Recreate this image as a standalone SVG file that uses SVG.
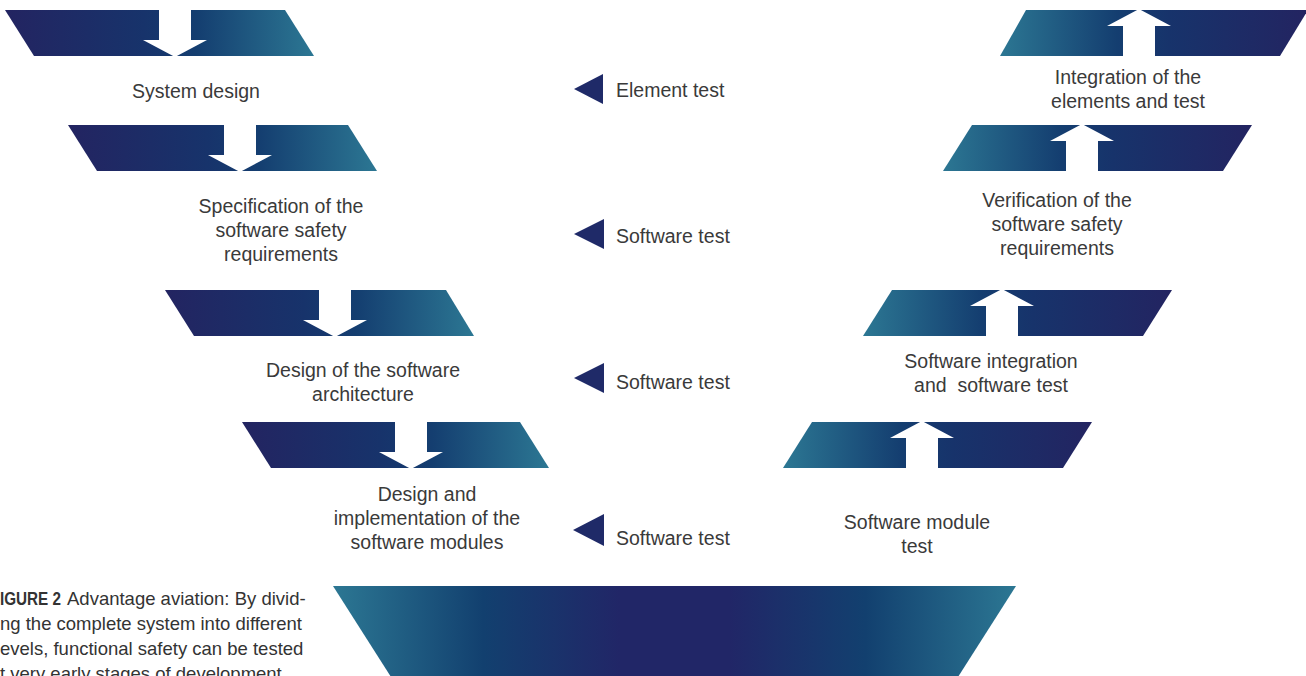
<svg xmlns="http://www.w3.org/2000/svg" width="1306" height="676" viewBox="0 0 1306 676">
<defs>
<linearGradient id="gL" x1="0" y1="0" x2="1" y2="0">
<stop offset="0" stop-color="#232461"/>
<stop offset="0.45" stop-color="#17336b"/>
<stop offset="0.62" stop-color="#143e70"/>
<stop offset="1" stop-color="#2c7793"/>
</linearGradient>
<linearGradient id="gR" x1="0" y1="0" x2="1" y2="0">
<stop offset="0" stop-color="#2c7793"/>
<stop offset="0.38" stop-color="#143e70"/>
<stop offset="0.55" stop-color="#17336b"/>
<stop offset="1" stop-color="#232461"/>
</linearGradient>
<linearGradient id="gB" x1="0" y1="0" x2="1" y2="0">
<stop offset="0" stop-color="#2c7793"/>
<stop offset="0.22" stop-color="#12406f"/>
<stop offset="0.42" stop-color="#212667"/>
<stop offset="0.58" stop-color="#212667"/>
<stop offset="0.78" stop-color="#12406f"/>
<stop offset="1" stop-color="#2c7793"/>
</linearGradient>
<style>
.barL{fill:url(#gL);}
.barR{fill:url(#gR);}
.barB{fill:url(#gB);}
.arr{fill:#ffffff;}
.tri{fill:#1f2a68;}
.lbl{font-family:"Liberation Sans",Arial,sans-serif;font-size:19.5px;fill:#3a3a3a;text-anchor:middle;}
.tst{font-family:"Liberation Sans",Arial,sans-serif;font-size:19.5px;fill:#3a3a3a;}
.cap{font-family:"Liberation Sans",Arial,sans-serif;font-size:18.5px;fill:#333333;}
.capb{font-weight:bold;}
</style>
</defs>
<rect x="0" y="0" width="1306" height="676" fill="#ffffff"/>

<g id="node-system-design">
<polygon class="barL" points="5,10 285,10 314,56 34,56"/>
<text class="lbl" x="196" y="98">System design</text>
</g>
<g id="node-spec-safety-req">
<polygon class="barL" points="68,125 348,125 377,171 97,171"/>
<text class="lbl" x="281" y="213">Specification of the</text>
<text class="lbl" x="281" y="237">software safety</text>
<text class="lbl" x="281" y="261">requirements</text>
</g>
<g id="node-sw-architecture">
<polygon class="barL" points="165,290 446,290 474,336 194,336"/>
<text class="lbl" x="363" y="377">Design of the software</text>
<text class="lbl" x="363" y="401">architecture</text>
</g>
<g id="node-sw-modules">
<polygon class="barL" points="242,422 520,422 549,468 271,468"/>
<text class="lbl" x="427" y="501">Design and</text>
<text class="lbl" x="427" y="525">implementation of the</text>
<text class="lbl" x="427" y="549">software modules</text>
</g>
<g id="node-implementation">
<polygon class="barB" points="333,586 1016,586 958,677 391,677"/>
</g>
<g id="node-module-test">
<polygon class="barR" points="812,422 1092,422 1063,468 783,468"/>
<text class="lbl" x="917" y="529">Software module</text>
<text class="lbl" x="917" y="553">test</text>
</g>
<g id="node-sw-integration">
<polygon class="barR" points="892,290 1172,290 1143,336 863,336"/>
<text class="lbl" x="991" y="368">Software integration</text>
<text class="lbl" x="991" y="392" xml:space="preserve">and  software test</text>
</g>
<g id="node-verification">
<polygon class="barR" points="972,125 1252,125 1223,171 943,171"/>
<text class="lbl" x="1057" y="207">Verification of the</text>
<text class="lbl" x="1057" y="231">software safety</text>
<text class="lbl" x="1057" y="255">requirements</text>
</g>
<g id="node-element-integration">
<polygon class="barR" points="1026,10 1308,10 1280,56 1000,56"/>
<text class="lbl" x="1128" y="84">Integration of the</text>
<text class="lbl" x="1128" y="108">elements and test</text>
</g>

<g id="node-element-test">
<polygon class="tri" points="574,89 603,74 603,104"/>
<text class="tst" x="616" y="97">Element test</text>
</g>
<g id="node-software-test-1">
<polygon class="tri" points="574,234 604,219 604,249"/>
<text class="tst" x="616" y="243">Software test</text>
</g>
<g id="node-software-test-2">
<polygon class="tri" points="574,378 604,363 604,393"/>
<text class="tst" x="616" y="389">Software test</text>
</g>
<g id="node-software-test-3">
<polygon class="tri" points="573,530 604,514 604,546"/>
<text class="tst" x="616" y="545">Software test</text>
</g>

<g id="connectors">
<polygon class="arr" points="159,9 191,9 191,40 207,40 175,57 143,40 159,40"/>
<polygon class="arr" points="224,124 256,124 256,155 272,155 240,172 208,155 224,155"/>
<polygon class="arr" points="319,289 351,289 351,320 367,320 335,337 303,320 319,320"/>
<polygon class="arr" points="395,421 427,421 427,452 443,452 411,469 379,452 395,452"/>
<polygon class="arr" points="922,421 954,438 938,438 938,469 906,469 906,438 890,438"/>
<polygon class="arr" points="1002,289 1034,306 1018,306 1018,337 986,337 986,306 970,306"/>
<polygon class="arr" points="1082,124 1114,141 1098,141 1098,172 1066,172 1066,141 1050,141"/>
<polygon class="arr" points="1139,9 1171,26 1155,26 1155,57 1123,57 1123,26 1107,26"/>
</g>

<g id="caption">
<text class="cap" x="0" y="605"><tspan class="capb" textLength="61" lengthAdjust="spacingAndGlyphs">IGURE 2</tspan><tspan x="67">Advantage aviation: By divid-</tspan></text>
<text class="cap" x="0" y="630">ng the complete system into different</text>
<text class="cap" x="0" y="655">evels, functional safety can be tested</text>
<text class="cap" x="0" y="680">t very early stages of development.</text>
</g>
</svg>
